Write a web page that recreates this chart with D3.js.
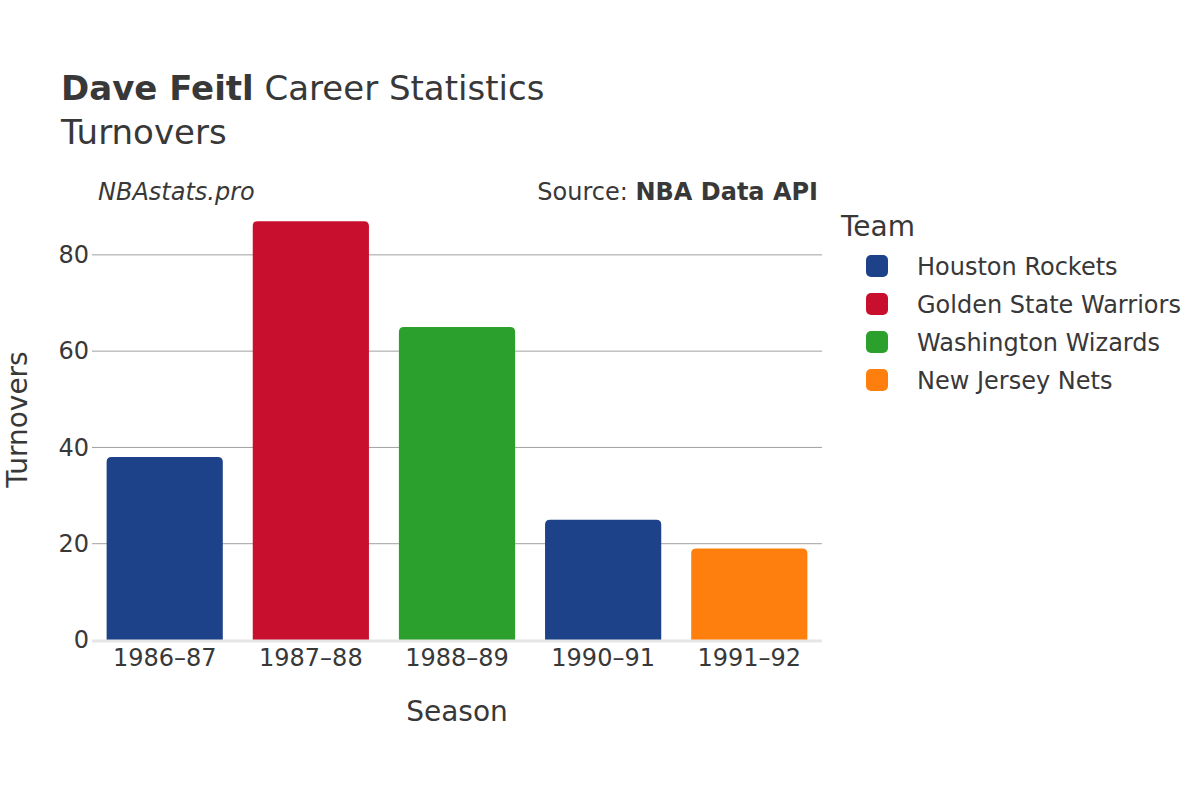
<!DOCTYPE html>
<html>
<head>
<meta charset="utf-8">
<script src="https://cdn.jsdelivr.net/npm/d3@7"></script>
<style>
    body { margin: 0; background: #fff; }
    text { font-family: "DejaVu Sans", sans-serif; fill: #383838; }
</style>
</head>
<body>
<div id="graph"></div>
<script>
var seasons = ['1986–87', '1987–88', '1988–89', '1990–91', '1991–92'];
var turnovers = [38, 87, 65, 25, 19];
var seasonTeams = ['Houston Rockets', 'Golden State Warriors', 'Washington Wizards', 'Houston Rockets', 'New Jersey Nets'];
var teams = ['Houston Rockets', 'Golden State Warriors', 'Washington Wizards', 'New Jersey Nets'];
var teamColors = ['#1d428a', '#c8102e', '#2ca02c', '#ff7f0e'];
var yTicks = [0, 20, 40, 60, 80];

var width = 1200,
    height = 800;
var plot = { left: 92, right: 822, top: 199, bottom: 640 };

var svg = d3.select('#graph')
    .append('svg')
        .attr('width', width)
        .attr('height', height);

var color = d3.scaleOrdinal()
    .domain(teams)
    .range(teamColors);

var x = d3.scaleBand()
    .domain(seasons)
    .range([plot.left, plot.right])
    .paddingInner(0.205)
    .paddingOuter(0.1);

var y = d3.scaleLinear()
    .domain([0, 91.6])
    .range([plot.bottom, plot.top]);

// grid
svg.append('g')
    .selectAll('line')
    .data(yTicks.filter(d => d > 0)).enter().append('line')
    .attr('x1', plot.left)
    .attr('x2', plot.right)
    .attr('y1', d => y(d))
    .attr('y2', d => y(d))
    .style('stroke', '#a0a0a0')
    .style('stroke-width', 1);

// y axis labels
var yAxis = svg.append('g')
    .attr('transform', 'translate(' + plot.left + ',0)')
    .call(d3.axisLeft(y).tickValues(yTicks).tickSize(0).tickPadding(3));
yAxis.select('.domain').remove();
yAxis.selectAll('text')
    .style('font-size', '24px')
    .style('fill', '#383838');

// bars with rounded tops
function barPath(d, i) {
    var x0 = x(seasons[i]), w = x.bandwidth();
    var y0 = y(d), y1 = y(0), r = 5;
    return 'M' + x0 + ',' + y1 +
        'L' + x0 + ',' + (y0 + r) +
        'Q' + x0 + ',' + y0 + ' ' + (x0 + r) + ',' + y0 +
        'L' + (x0 + w - r) + ',' + y0 +
        'Q' + (x0 + w) + ',' + y0 + ' ' + (x0 + w) + ',' + (y0 + r) +
        'L' + (x0 + w) + ',' + y1 + 'Z';
}
svg.append('g')
    .selectAll('path')
    .data(turnovers).enter().append('path')
    .attr('d', barPath)
    .style('fill', (d, i) => color(seasonTeams[i]));

// zero line
svg.append('line')
    .attr('x1', plot.left)
    .attr('x2', plot.right)
    .attr('y1', y(0) + 1)
    .attr('y2', y(0) + 1)
    .style('stroke', '#e6e6e6')
    .style('stroke-width', 3);

// x axis
var xAxis = svg.append('g')
    .attr('transform', 'translate(0,' + plot.bottom + ')')
    .call(d3.axisBottom(x).tickSize(0).tickPadding(9));
xAxis.select('.domain').remove();
xAxis.selectAll('text')
    .style('font-size', '24px')
    .style('fill', '#383838');

// axis titles
svg.append('text')
    .attr('x', (plot.left + plot.right) / 2)
    .attr('y', 721)
    .attr('text-anchor', 'middle')
    .style('font-size', '28px')
    .text('Season');
svg.append('text')
    .attr('transform', 'translate(27,' + ((plot.top + plot.bottom) / 2) + ') rotate(-90)')
    .attr('text-anchor', 'middle')
    .style('font-size', '28px')
    .text('Turnovers');

// titles
var title = svg.append('text')
    .attr('x', 61)
    .attr('y', 100)
    .style('font-size', '34px');
title.append('tspan').style('font-weight', 'bold').text('Dave Feitl');
title.append('tspan').text(' Career Statistics');
svg.append('text')
    .attr('x', 61)
    .attr('y', 144)
    .style('font-size', '34px')
    .text('Turnovers');

svg.append('text')
    .attr('x', 98)
    .attr('y', 200)
    .style('font-size', '24px')
    .style('font-style', 'italic')
    .text('NBAstats.pro');
var source = svg.append('text')
    .attr('x', 818)
    .attr('y', 200)
    .attr('text-anchor', 'end')
    .style('font-size', '24px');
source.append('tspan').text('Source: ');
source.append('tspan').style('font-weight', 'bold').text('NBA Data API');

// LEGEND
var legend = svg.append('g')
    .attr('transform', 'translate(841,0)');
legend.append('text')
    .attr('x', 0)
    .attr('y', 236)
    .style('font-size', '28px')
    .text('Team');
var items = legend.selectAll('.item')
    .data(teams).enter().append('g')
    .attr('class', 'item')
    .attr('transform', (d, i) => 'translate(0,' + (266 + i * 38) + ')');
items.append('rect')
    .attr('x', 25)
    .attr('y', -11)
    .attr('width', 22)
    .attr('height', 22)
    .attr('rx', 5)
    .style('fill', d => color(d));
items.append('text')
    .attr('x', 76)
    .attr('y', 8.5)
    .style('font-size', '24px')
    .text(d => d);
</script>
</body>
</html>
